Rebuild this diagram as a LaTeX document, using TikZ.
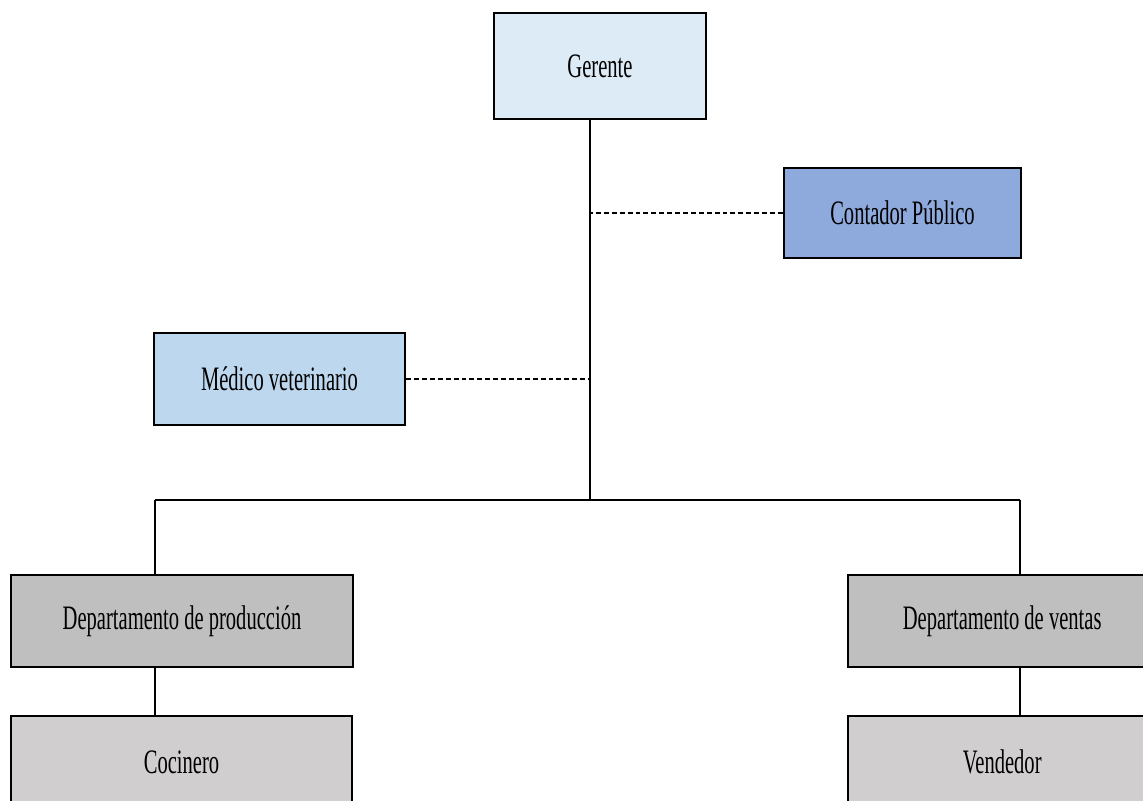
\documentclass[tikz,border=0pt]{standalone}
\usepackage{fontspec}
\setmainfont[FakeStretch=0.6]{Liberation Serif}
\usetikzlibrary{shapes,arrows}

\definecolor{gerentefill}{HTML}{DDEBF7}
\definecolor{contadorfill}{HTML}{8EA9DB}
\definecolor{medicofill}{HTML}{BDD7EE}
\definecolor{deptfill}{HTML}{BFBFBF}
\definecolor{puestofill}{HTML}{D0CECE}

\begin{document}
\begin{tikzpicture}[x=0.02cm, y=-0.02cm, font=\fontsize{19.5}{22}\selectfont]
	% Define block styles
	\tikzstyle{block} = [rectangle, draw, line width=1.4pt, text centered, inner sep=0pt]
	\tikzstyle{line} = [draw, line width=1pt]
	\tikzstyle{staff} = [draw, line width=0.9pt, dash pattern=on 2.8pt off 1.7pt]

	\useasboundingbox (0,0) rectangle (1143,801);
	\clip (0,0) rectangle (1143,801);

	% Nodes
	\node [block, fill=gerentefill, minimum width=4.24cm, minimum height=2.13cm] (gerente) at (600,66) {Gerente};
	\node [block, fill=contadorfill, minimum width=4.74cm, minimum height=1.8cm] (contador) at (902.5,213) {Contador Público};
	\node [block, fill=medicofill, minimum width=5.02cm, minimum height=1.84cm] (medico) at (279.5,379) {Médico veterinario};
	\node [block, fill=deptfill, minimum width=6.84cm, minimum height=1.84cm] (produccion) at (182,621) {Departamento de producción};
	\node [block, fill=puestofill, minimum width=6.82cm, minimum height=1.84cm] (cocinero) at (181.5,762) {Cocinero};
	% right column runs past the page edge
	\node [block, fill=deptfill, minimum height=1.84cm, anchor=west] (ventas) at (847,621) {\makebox[6.16cm]{Departamento de ventas}\hspace{1.2cm}};
	\node [block, fill=puestofill, minimum height=1.84cm, anchor=west] (vendedor) at (847,762) {\makebox[6.16cm]{Vendedor}\hspace{1.2cm}};

	\coordinate (bus) at (590,500);
	\coordinate (busl) at (155,500);
	\coordinate (busr) at (1020,500);

	% Connecting lines
	\path [line] (gerente.south -| bus) -- (bus);
	\path [line] (busl) -- (busr);
	\path [line] (busl) -- (produccion.north -| busl);
	\path [line] (busr) -- (ventas.north -| busr);
	\path [line] (produccion.south -| busl) -- (cocinero.north -| busl);
	\path [line] (ventas.south -| busr) -- (vendedor.north -| busr);
	\path [staff] (contador.west) -- (contador.west -| bus);
	\path [staff] (medico.east) -- (medico.east -| bus);
\end{tikzpicture}
\end{document}
